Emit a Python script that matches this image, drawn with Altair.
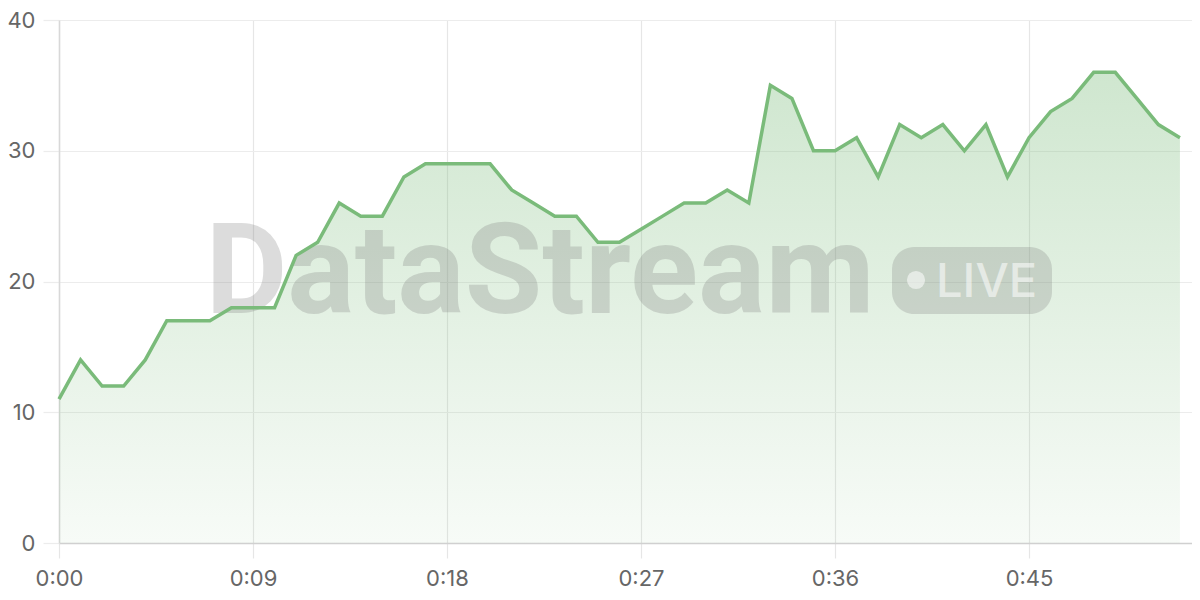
import altair as alt
import pandas as pd

seconds = list(range(53))
values = [11, 14, 12, 12, 14, 17, 17, 17, 18, 18,
          18, 22, 23, 26, 25, 25, 28, 29, 29, 29,
          29, 27, 26, 25, 25, 23, 23, 24, 25, 26,
          26, 27, 26, 35, 34, 30, 30, 31, 28, 32,
          31, 32, 30, 32, 28, 31, 33, 34, 36, 36,
          34, 32, 31]
x_ticks = [0, 9, 18, 27, 36, 45]
y_ticks = [0, 10, 20, 30, 40]
watermark_text = ["DataStream"]
badge_text = ["LIVE"]

df = pd.DataFrame({"t": seconds, "v": values})

W, H = 1133, 523
LINE = "#7abb7a"
FONT = "Inter"

x_enc = alt.X("t:Q", scale=alt.Scale(domain=[0, 52.56], nice=False, zero=False),
              axis=alt.Axis(values=x_ticks, title=None,
                            labelExpr="floor(datum.value/60) + ':' + (datum.value % 60 < 10 ? '0' : '') + (datum.value % 60)",
                            grid=True, gridColor="#e6e6e6", gridWidth=1.2,
                            ticks=True, tickColor="#e6e6e6", tickSize=15, tickWidth=1.2,
                            domain=True, domainColor="#d0d0d0", domainWidth=1.5,
                            labelFontSize=22, labelColor="#666666", labelFont=FONT,
                            labelPadding=10, labelFlush=False))
y_enc = alt.Y("v:Q", scale=alt.Scale(domain=[0, 40], nice=False),
              axis=alt.Axis(values=y_ticks, title=None,
                            grid=True, gridColor="#ececec", gridWidth=1.2,
                            ticks=True, tickColor="#ececec", tickSize=16, tickWidth=1.2,
                            domain=True, domainColor="#d8d8d8", domainWidth=1.5,
                            labelFontSize=22, labelColor="#666666", labelFont=FONT,
                            labelPadding=8))

area = alt.Chart(df).mark_area(
    line=False,
    color=alt.Gradient(gradient="linear",
                       stops=[alt.GradientStop(color="rgba(122,187,122,0.36)", offset=0),
                              alt.GradientStop(color="rgba(122,187,122,0.06)", offset=1)],
                       x1=1, x2=1, y1=0, y2=1)
).encode(x=x_enc, y=y_enc)

wm_df = pd.DataFrame({"label": watermark_text})
badge_df = pd.DataFrame({"label": badge_text})

wm = alt.Chart(wm_df).mark_text(
    font="Roboto", fontSize=126, fontWeight="bold", align="center", baseline="alphabetic",
    color="#7a7a7a", opacity=0.26
).encode(text="label:N", x=alt.value(481), y=alt.value(293))

badge = alt.Chart(badge_df).mark_rect(
    color="#7a7a7a", opacity=0.26, cornerRadius=22
).encode(x=alt.value(833), x2=alt.value(993), y=alt.value(227), y2=alt.value(294))

dot = alt.Chart(badge_df).mark_point(
    filled=True, shape="circle", size=330, color="#ffffff", opacity=0.55
).encode(x=alt.value(857), y=alt.value(260))

live = alt.Chart(badge_df).mark_text(
    font=FONT, fontSize=47, fontWeight=500, align="left", baseline="alphabetic",
    color="#ffffff", opacity=0.55
).encode(text="label:N", x=alt.value(877), y=alt.value(277))

line = alt.Chart(df).mark_line(color=LINE, strokeWidth=3.5, strokeJoin="miter").encode(x=x_enc, y=y_enc)

chart = alt.layer(area, wm, badge, dot, live, line).properties(
    width=W, height=H,
    autosize=alt.AutoSizeParams(type="none"),
    padding={"left": 51, "top": 12, "right": 0, "bottom": 50},
).configure_view(stroke=None)

chart.save("out.html", embed_options={"renderer": "svg", "actions": False})
